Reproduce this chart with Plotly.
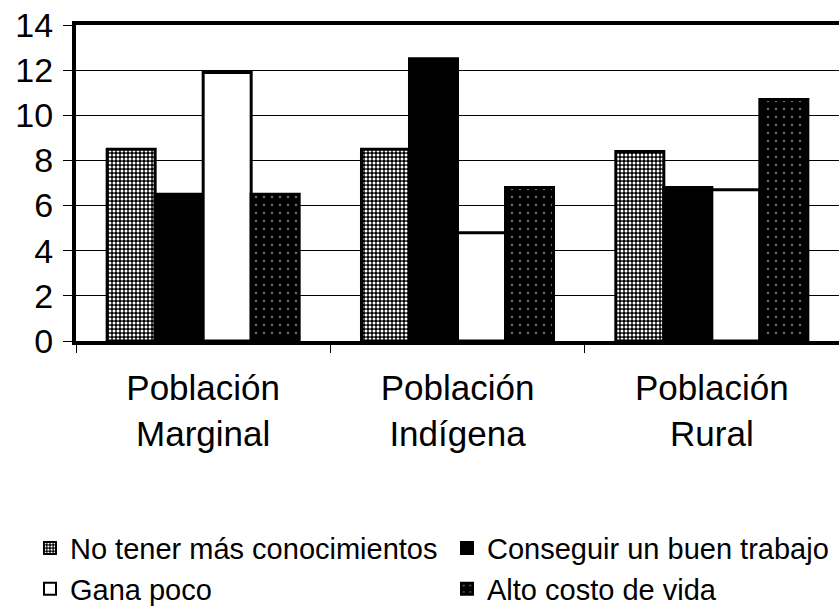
import plotly.graph_objects as go

# Categories and series values
categories = ["Población<br>Marginal", "Población<br>Indígena", "Población<br>Rural"]
no_tener = [8.5, 8.5, 8.4]
conseguir = [6.5, 12.5, 6.8]
gana_poco = [11.9, 4.8, 6.7]
alto_costo = [6.5, 6.8, 10.7]
y_ticks = [0, 2, 4, 6, 8, 10, 12, 14]

FONT = "Liberation Sans, Arial, Helvetica, sans-serif"

series = [
    ("No tener más conocimientos", no_tener,
     dict(color="black", pattern=dict(shape=".", fgcolor="white", bgcolor="black",
                                      size=4, solidity=0.45, fillmode="replace"))),
    ("Conseguir un buen trabajo", conseguir, dict(color="black")),
    ("Gana poco", gana_poco, dict(color="white")),
    ("Alto costo de vida", alto_costo,
     dict(color="black", pattern=dict(shape=".", fgcolor="#6a6a6a", bgcolor="black",
                                      size=8, solidity=0.08, fillmode="replace"))),
]

fig = go.Figure()
for name, vals, marker in series:
    marker = dict(marker)
    marker["line"] = dict(color="black", width=3)
    fig.add_trace(go.Bar(name=name, x=categories, y=vals, marker=marker))

fig.update_layout(
    width=839, height=610,
    margin=dict(l=76, r=0, t=25, b=269, autoexpand=False),
    paper_bgcolor="white", plot_bgcolor="white",
    barmode="group", bargap=0.245, bargroupgap=0,
    font=dict(family=FONT, color="black"),
    showlegend=True,
    legend=dict(
        orientation="h", x=-0.0603, xanchor="left", y=-0.575, yanchor="top",
        entrywidth=372, entrywidthmode="pixels",
        font=dict(size=29, family=FONT, color="black"),
        itemsizing="constant", traceorder="normal",
        bgcolor="rgba(0,0,0,0)",
    ),
)

fig.update_xaxes(
    automargin=False,
    showline=True, linecolor="black", linewidth=4, mirror=True,
    ticks="outside", tickson="boundaries", ticklen=8, tickwidth=1, tickcolor="black",
    tickfont=dict(size=35, family=FONT, color="black"),
    ticklabelstandoff=13,
    showgrid=False,
)
fig.update_yaxes(
    automargin=False,
    range=[0, 14], tickvals=y_ticks,
    showline=True, linecolor="black", linewidth=4, mirror=False,
    ticks="outside", ticklen=9, tickwidth=1, tickcolor="black",
    tickfont=dict(size=34, family=FONT, color="black"),
    ticklabelstandoff=3,
    showgrid=True, gridcolor="black", gridwidth=1,
    zeroline=False,
)

fig.write_html("out.html")
